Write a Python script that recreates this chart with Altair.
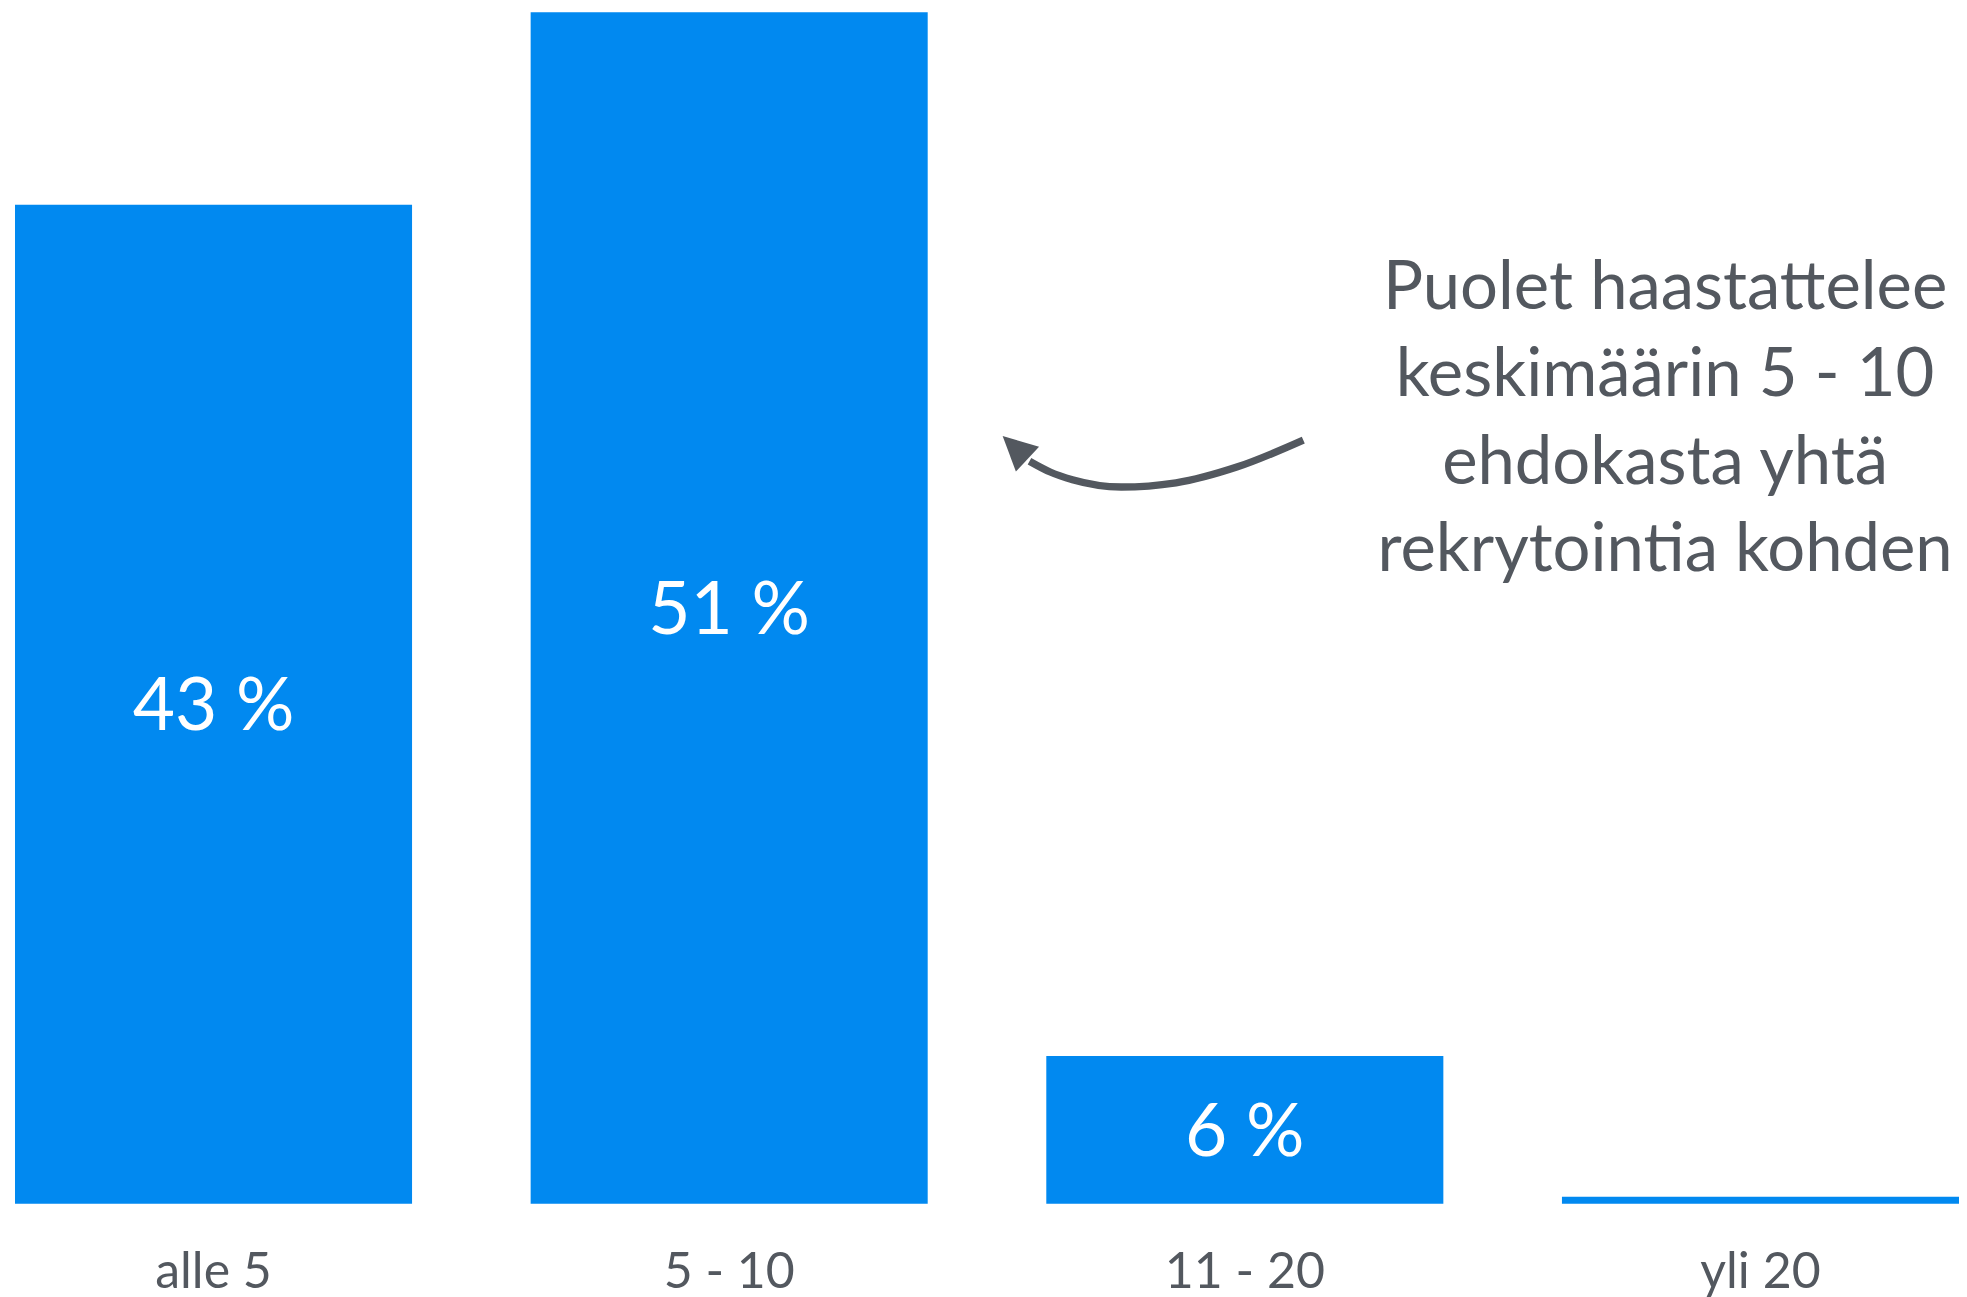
import altair as alt
import pandas as pd

# ---- data -------------------------------------------------------------
categories = ["alle 5", "5 - 10", "11 - 20", "yli 20"]
values = [42.6, 50.8, 6.3, 0.3]
value_labels = ["43 %", "51 %", "6 %", ""]

note_lines = ["Puolet haastattelee", "keskimäärin 5 - 10", "ehdokasta yhtä", "rekrytointia kohden"]
# annotation anchor in (bar-index units, percent units)
note_x = [2.815]
note_y = [38.17]

# curved arrow shaft, in (bar-index units, percent units)
arrow_x = [1.5824, 1.6225, 1.6657, 1.7603, 1.8665, 1.9844, 2.1134]
arrow_y = [31.66, 31.20, 30.87, 30.56, 30.74, 31.41, 32.56]
# arrow head
head_x = [1.5544]
head_y = [32.24]

BLUE = "#0189F0"
GRAY = "#53585F"
FONT = "Lato"
YMAX = max(values)
PAD_INNER = 0.23
half = (1 - PAD_INNER) / 2

bars_df = pd.DataFrame({"cat": categories, "value": values, "label": value_labels})
arrow_df = pd.DataFrame({"ax": arrow_x, "ay": arrow_y})
head_df = pd.DataFrame({"ax": head_x, "ay": head_y})
note_df = pd.DataFrame({"ax": note_x, "ay": note_y, "txt": ["\n".join(note_lines)]})

x_band = alt.X(
    "cat:N",
    sort=categories,
    scale=alt.Scale(paddingInner=PAD_INNER, paddingOuter=0),
    axis=alt.Axis(
        title=None, labelAngle=0, labelFontSize=50, labelFont=FONT,
        labelColor=GRAY, labelPadding=44, ticks=False, tickSize=0,
        domain=False, grid=False, orient="bottom",
    ),
)
y_scale = alt.Scale(domain=[0, YMAX], nice=False, zero=True)

bars = alt.Chart(bars_df).mark_bar(color=BLUE).encode(
    x=x_band,
    y=alt.Y("value:Q", scale=y_scale, axis=None),
)

labels = alt.Chart(bars_df).transform_calculate(mid="datum.value / 2").mark_text(
    font=FONT, fontSize=73, color="white", baseline="middle", align="center", dy=4
).encode(
    x=x_band,
    y=alt.Y("mid:Q", scale=y_scale, axis=None),
    text="label:N",
)

base = alt.layer(bars, labels)

ax_x = alt.X("ax:Q", scale=alt.Scale(domain=[-half, 3 + half], nice=False, zero=False), axis=None)
ax_y = alt.Y("ay:Q", scale=y_scale, axis=None)

arrow_line = alt.Chart(arrow_df).mark_line(
    color=GRAY, strokeWidth=7.3, interpolate="monotone", strokeCap="butt"
).encode(x=ax_x, y=ax_y)

arrow_head = alt.Chart(head_df).mark_point(
    shape="M0,-1L1,1L-1,1Z", filled=True, size=1156, angle=313,
    color=GRAY, opacity=1, strokeWidth=0,
).encode(x=ax_x, y=ax_y)

note = alt.Chart(note_df).mark_text(
    font=FONT, fontSize=67, color=GRAY, align="center", baseline="alphabetic",
    lineBreak="\n", lineHeight=87.6,
).encode(x=ax_x, y=ax_y, text="txt:N")

annot = alt.layer(arrow_line, arrow_head, note)

chart = (
    alt.layer(base, annot)
    .resolve_scale(x="independent")
    .properties(
        width=1945, height=1192,
        padding={"left": 7, "top": 4, "right": 0, "bottom": 0},
        background="white",
    )
    .configure_view(stroke=None)
)

chart.save("out.html", embed_options={"renderer": "svg", "actions": False})
